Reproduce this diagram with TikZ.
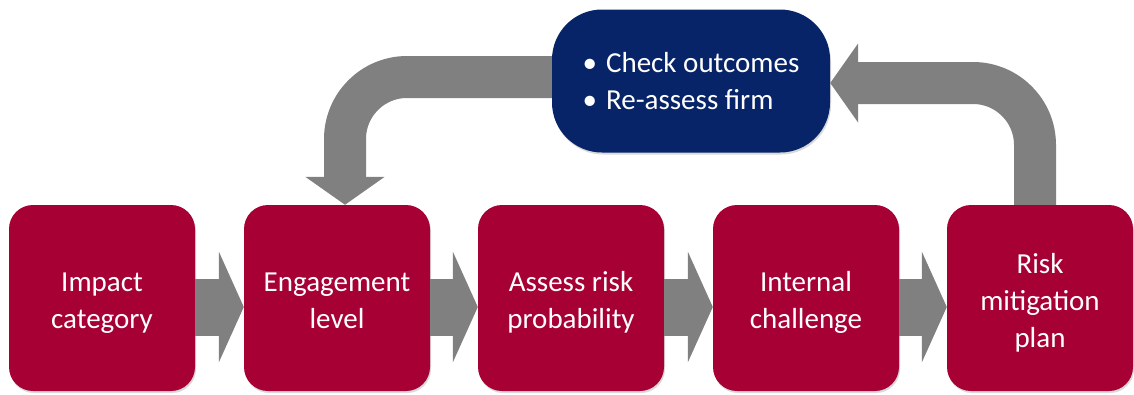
\documentclass[tikz,border=0pt]{standalone}
\usepackage{fontspec}
\setmainfont{Carlito}
\usetikzlibrary{arrows.meta,shadows}
\definecolor{boxred}{RGB}{166,0,52}
\definecolor{boxblue}{RGB}{8,36,104}
\definecolor{flowgray}{RGB}{128,128,128}
\newcommand{\steplines}[1]{\raisebox{-5pt}[\height][\depth]{\begin{tabular}{@{}c@{}}#1\end{tabular}}}

\begin{document}
\begin{tikzpicture}[x = 1pt, y = -1pt,
    stepbox/.style = {rectangle, rounded corners = 24pt, fill = boxred, text = white,
        minimum width = 186pt, minimum height = 186pt, inner sep = 0pt,
        font = \fontsize{29}{37}\selectfont,
        drop shadow = {opacity = 0.3, shadow xshift = 1pt, shadow yshift = -2pt}},
    checkbox/.style = {rectangle, rounded corners = 50pt, fill = boxblue, text = white,
        minimum width = 278pt, minimum height = 143pt, inner sep = 0pt, align = left,
        font = \fontsize{29}{37}\selectfont,
        drop shadow = {opacity = 0.3, shadow xshift = 1pt, shadow yshift = -2pt}},
    flow/.style = {draw = flowgray, line width = 57pt, -{Triangle[length = 25pt, width = 110pt]}},
    loopflow/.style = {draw = flowgray, line width = 42pt, rounded corners = 62pt,
        -{Triangle[length = 28pt, width = 78pt]}}]
\useasboundingbox (0,0) rectangle (1134,394);
\draw (102,298) node[stepbox](a1){\steplines{Impact\\category}}
    (337,298) node[stepbox](a2){\steplines{Engagement\\level}}
    (571,298) node[stepbox](a3){\steplines{Assess risk\\probability}}
    (806,298) node[stepbox](a4){\steplines{Internal\\challenge}}
    (1040,298) node[stepbox](a5){\steplines{Risk\\mitigation\\plan}}
    (691,81) node[checkbox](b1){\textbullet\hspace{9pt}Check outcomes\\
        \textbullet\hspace{9pt}Re-assess firm};
    % steps in a row
    \foreach \u/\v in {a1/a2, a2/a3, a3/a4, a4/a5}
        \draw [flow] ([yshift = -9pt]\u.east) -- ([yshift = -9pt]\v.west);
    % back to the top and down again
    \draw [loopflow] ([xshift = -5pt]a5.north) |- ([yshift = -2pt]b1.east);
    \draw [loopflow] ([yshift = 4pt]b1.west) -| ([xshift = 8pt]a2.north);
\end{tikzpicture}
\end{document}
